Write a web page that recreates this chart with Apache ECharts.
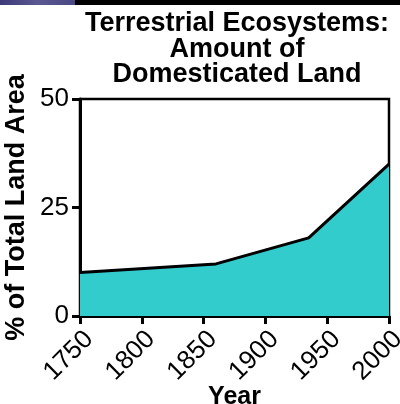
<!DOCTYPE html>
<html><head><meta charset="utf-8">
<script src="https://cdn.jsdelivr.net/npm/echarts@6/dist/echarts.min.js"></script>
<style>html,body{margin:0;padding:0;background:#fff}#c{width:400px;height:404px}</style>
</head><body><div id="c"></div>
<script>
const years = [1750, 1860, 1935, 2000];
const percentLand = [10, 12, 18, 35];
const xTicks = [1750, 1800, 1850, 1900, 1950, 2000];
const yTicks = [0, 25, 50];
const titleLines = ['Terrestrial Ecosystems:', 'Amount of', 'Domesticated Land'];

const font = 'Liberation Sans, Arial, Helvetica, sans-serif';
const chart = echarts.init(document.getElementById('c'), null, {renderer: 'canvas'});
chart.setOption({
  animation: false,
  backgroundColor: '#fff',
  graphic: [
    {type: 'rect', shape: {x: 0, y: 0, width: 400, height: 5}, style: {fill: '#000'}, z: 10},
    {type: 'rect', shape: {x: 0, y: 0, width: 75, height: 5},
     style: {fill: new echarts.graphic.LinearGradient(0, 0, 1, 0, [
       {offset: 0, color: '#3c3a78'}, {offset: 0.5, color: '#5a5890'}, {offset: 1, color: '#4a4884'}])}, z: 11}
  ],
  title: {
    text: titleLines.join('\n'),
    left: 232, top: 6, textAlign: 'center',
    textStyle: {fontFamily: font, fontWeight: 'bold', fontSize: 27, lineHeight: 25.5, color: '#000'}
  },
  grid: {left: 80, right: 11, top: 99, bottom: 88, outerBoundsMode: 'none', containLabel: false,
         show: true, borderColor: '#000', borderWidth: 2.5, backgroundColor: 'transparent'},
  xAxis: {
    type: 'value', min: xTicks[0], max: xTicks[xTicks.length - 1], interval: 50,
    name: 'Year', nameLocation: 'middle', nameGap: 69, nameMoveOverlap: false,
    nameTextStyle: {fontFamily: font, fontWeight: 'bold', fontSize: 25, color: '#000'},
    axisLine: {show: true, lineStyle: {color: '#000', width: 3}},
    axisTick: {show: true, length: 8, lineStyle: {color: '#000', width: 3}},
    axisLabel: {rotate: 45, margin: 10, verticalAlign: 'top', fontFamily: font, fontSize: 26, color: '#000', formatter: v => String(v)},
    splitLine: {show: false}
  },
  yAxis: {
    type: 'value', min: yTicks[0], max: yTicks[yTicks.length - 1], interval: 25,
    name: '% of Total Land Area', nameLocation: 'middle', nameGap: 50, nameRotate: 90, nameMoveOverlap: false,
    nameTextStyle: {fontFamily: font, fontWeight: 'bold', fontSize: 27, color: '#000'},
    axisLine: {show: true, lineStyle: {color: '#000', width: 3}},
    axisTick: {show: true, length: 8, lineStyle: {color: '#000', width: 3}},
    axisLabel: {margin: 11, fontFamily: font, fontSize: 26, color: '#000'},
    splitLine: {show: false}
  },
  series: [{
    type: 'line',
    data: years.map((y, i) => [y, percentLand[i]]),
    symbol: 'none',
    lineStyle: {color: '#000', width: 3},
    areaStyle: {color: '#33CCCC', opacity: 1},
    z: 1
  }]
});
</script></body></html>
